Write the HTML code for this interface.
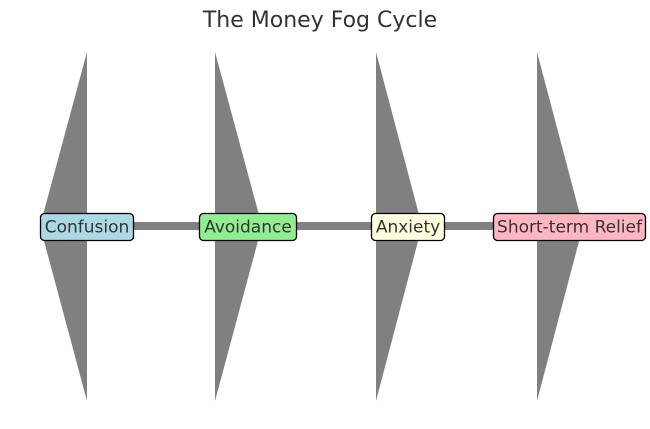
<!DOCTYPE html>
<html><head><meta charset="utf-8"><style>
html,body{margin:0;padding:0;background:#fff;width:650px;height:429px;overflow:hidden}
svg{display:block}
text{font-family:"DejaVu Sans","Liberation Sans",sans-serif;fill:#333}
</style></head><body>
<svg width="650" height="429" viewBox="0 0 650 429">
<text x="320" y="27" font-size="22" text-anchor="middle">The Money Fog Cycle</text>
<g fill="#808080">
<polygon points="87,52 87,401 40,226"/>
<polygon points="215,52 215,401 262,226"/>
<polygon points="376,52 376,401 422,226"/>
<polygon points="537,52 537,401 583,226"/>
<rect x="40" y="222" width="550" height="8"/>
</g>
<g stroke="#000" stroke-width="1.3">
<rect x="40.5" y="213.5" width="93" height="27" rx="4" fill="#add8e6"/>
<rect x="199.5" y="213.5" width="97" height="27" rx="4" fill="#90ee90"/>
<rect x="371.5" y="213.5" width="73" height="27" rx="4" fill="#ffffe0"/>
<rect x="493.5" y="213.5" width="152" height="27" rx="4" fill="#ffb6c1"/>
</g>
<g font-size="17" text-anchor="middle">
<text x="87" y="232.5">Confusion</text>
<text x="248" y="232.5">Avoidance</text>
<text x="408" y="232.5">Anxiety</text>
<text x="569.5" y="232.5">Short-term Relief</text>
</g>
</svg>
</body></html>
